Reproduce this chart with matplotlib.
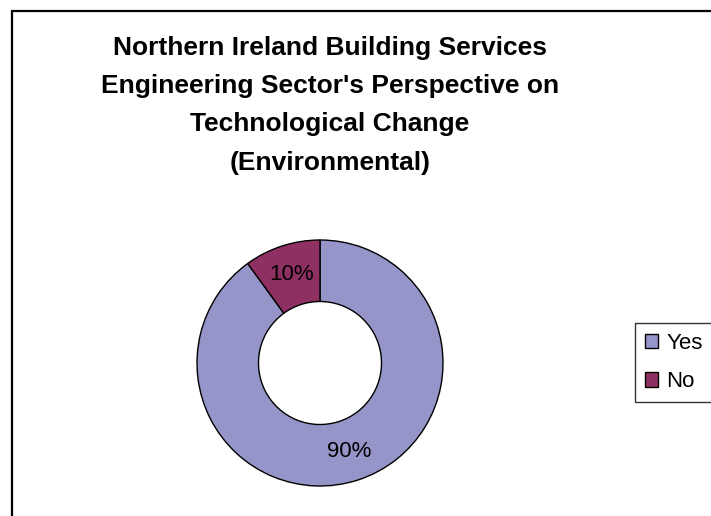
import matplotlib.pyplot as plt
import matplotlib.patches as mpatches

plt.rcParams['font.family'] = ['Liberation Sans', 'DejaVu Sans']

# 데이터
labels = ['Yes', 'No']
values = [90, 10]
colors = ['#9595C9', '#8F3062']
title = ("Northern Ireland Building Services\n"
         "Engineering Sector's Perspective on\n"
         "Technological Change\n"
         "(Environmental)")

W, H = 711, 516
fig = plt.figure(figsize=(W / 100, H / 100), dpi=100)

# 바깥 테두리 (오른쪽/아래는 그림 밖으로)
frame = mpatches.Rectangle((12 / W, -0.1), 1.2, 1.1 - 11 / H,
                           transform=fig.transFigure, fill=False,
                           edgecolor='black', linewidth=1.6)
fig.patches.append(frame)

# 제목
fig.text(330 / W, 1 - 36 / H, title, ha='center', va='top',
         fontsize=19, fontweight='bold', linespacing=1.75)

# 도넛 차트
cx, cy, r = 320, 363, 123
ax = fig.add_axes([(cx - r) / W, (H - cy - r) / H, 2 * r / W, 2 * r / H])
wedges, texts, autotexts = ax.pie(
    values, colors=colors, startangle=90, counterclock=False,
    autopct='%1.0f%%', pctdistance=0.76, radius=1,
    wedgeprops=dict(width=0.5, edgecolor='black', linewidth=1.0),
    textprops=dict(fontsize=16, color='black'))
ax.set_xlim(-1, 1)
ax.set_ylim(-1, 1)
ax.set_aspect('equal')
ax.axis('off')

# 범례
leg = fig.legend(wedges, labels, loc='upper left',
                 bbox_to_anchor=(635 / W, 1 - 323 / H),
                 fontsize=16, frameon=True, fancybox=False, shadow=False,
                 handlelength=0.6, handleheight=0.6, handletextpad=0.35,
                 labelspacing=0.78, borderpad=0.45, borderaxespad=0)
leg.get_frame().set_edgecolor('black')
leg.get_frame().set_linewidth(1.0)

fig.savefig('out.png', dpi=100)
